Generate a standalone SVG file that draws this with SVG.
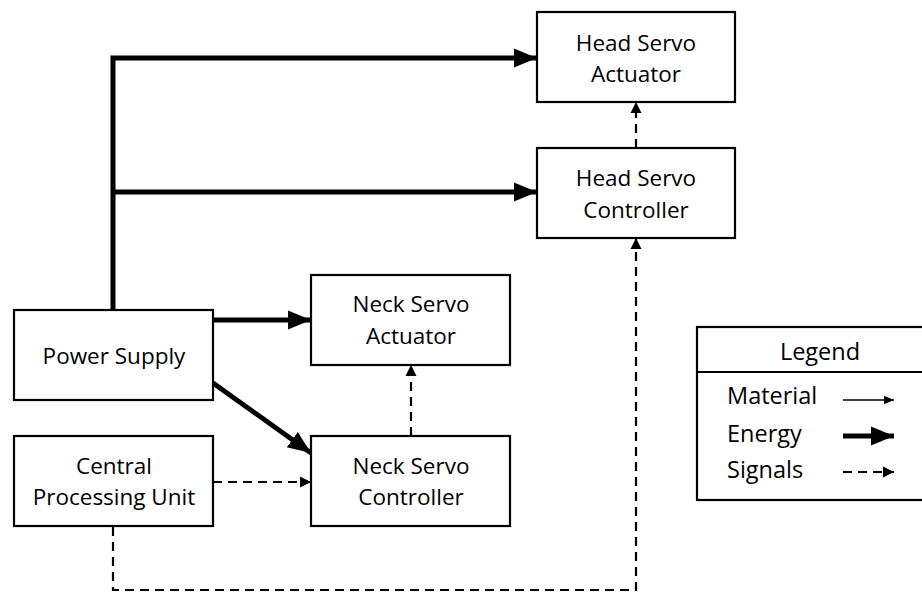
<svg xmlns="http://www.w3.org/2000/svg" width="922" height="593" viewBox="0 0 922 593">
<style>
.box{fill:#fff;stroke:#000;stroke-width:2.2}
.t{font-family:"Open Sans","Liberation Sans",sans-serif;font-size:22.5px;fill:#000;text-anchor:middle}
.lt{font-family:"Open Sans","Liberation Sans",sans-serif;font-size:23.5px;fill:#000}
.energy{stroke:#000;stroke-width:5;fill:none}
.signal{stroke:#000;stroke-width:2.2;fill:none;stroke-dasharray:9 6}
.material{stroke:#000;stroke-width:1.5;fill:none}
</style>
<defs>
<marker id="ah" markerWidth="5" markerHeight="5" refX="4.6" refY="2.5" orient="auto" markerUnits="strokeWidth"><path d="M0,0.6 L4.6,2.5 L0,4.4 Z" fill="#000"/></marker>
<marker id="sh" markerWidth="6" markerHeight="6" refX="5" refY="3" orient="auto" markerUnits="strokeWidth"><path d="M0,0.5 L5,3 L0,5.5 Z" fill="#000"/></marker>
<marker id="mh" markerWidth="8" markerHeight="8" refX="7" refY="4" orient="auto" markerUnits="strokeWidth"><path d="M0,1 L7,4 L0,7 Z" fill="#000"/></marker>
</defs>
<rect width="922" height="593" fill="#fff"/>
<g id="connectors">
<path class="energy" d="M113,310 V58 H537" marker-end="url(#ah)"/>
<path class="energy" d="M113,192 H537" marker-end="url(#ah)"/>
<path class="energy" d="M213,320 H311" marker-end="url(#ah)"/>
<path class="energy" d="M213,383 L311,453" marker-end="url(#ah)"/>
<path class="signal" d="M213,482 H311" marker-end="url(#sh)"/>
<path class="signal" d="M411,436 V365" marker-end="url(#sh)"/>
<path class="signal" d="M113,527 V590 H636 V238" marker-end="url(#sh)"/>
<path class="signal" d="M636,148 V102" marker-end="url(#sh)"/>
</g>
<g id="head-servo-actuator"><rect class="box" x="537" y="12" width="198" height="90"/><text class="t" x="636" y="51">Head Servo</text><text class="t" x="636" y="82">Actuator</text></g>
<g id="head-servo-controller"><rect class="box" x="537" y="148" width="198" height="90"/><text class="t" x="636" y="186">Head Servo</text><text class="t" x="636" y="218">Controller</text></g>
<g id="power-supply"><rect class="box" x="14" y="310" width="199" height="90"/><text class="t" x="114" y="364">Power Supply</text></g>
<g id="neck-servo-actuator"><rect class="box" x="311" y="275" width="199" height="90"/><text class="t" x="411" y="312">Neck Servo</text><text class="t" x="411" y="344">Actuator</text></g>
<g id="central-processing-unit"><rect class="box" x="14" y="436" width="199" height="90"/><text class="t" x="114" y="474">Central</text><text class="t" x="114" y="505">Processing Unit</text></g>
<g id="neck-servo-controller"><rect class="box" x="311" y="436" width="199" height="90"/><text class="t" x="411" y="474">Neck Servo</text><text class="t" x="411" y="505">Controller</text></g>
<g id="legend">
<rect class="box" x="697" y="327" width="230" height="173"/>
<line x1="697" y1="372" x2="922" y2="372" stroke="#000" stroke-width="2.2"/>
<text class="t" x="820" y="360" style="font-size:23.5px">Legend</text>
<text class="lt" x="727" y="404">Material</text>
<text class="lt" x="727" y="442">Energy</text>
<text class="lt" x="727" y="478">Signals</text>
<line class="material" x1="843" y1="400" x2="894" y2="400" marker-end="url(#mh)"/>
<line class="energy" x1="843" y1="436" x2="894" y2="436" marker-end="url(#ah)"/>
<line class="signal" x1="843" y1="472" x2="894" y2="472" marker-end="url(#sh)"/>
</g>
</svg>
